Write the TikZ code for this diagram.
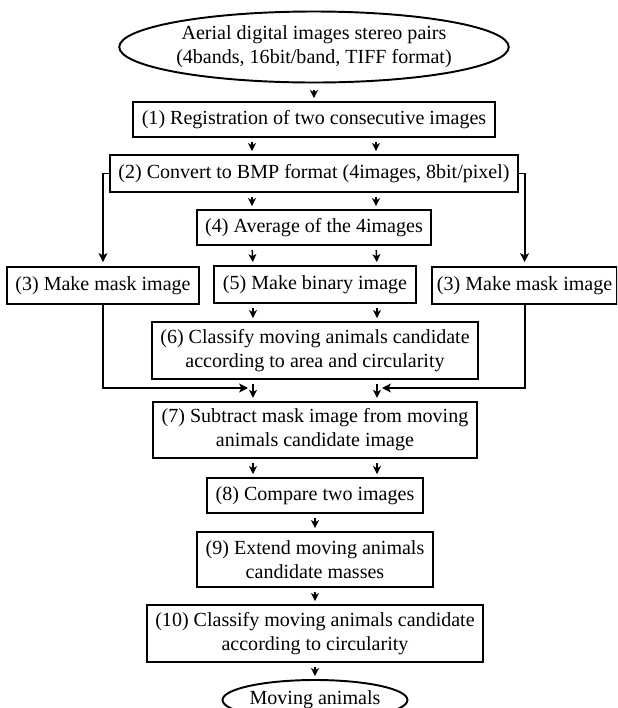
\documentclass[tikz,border=0pt]{standalone}
\usepackage{fontspec}
\setmainfont{Liberation Serif}
\usetikzlibrary{arrows.meta,shapes.geometric}

\begin{document}
\begin{tikzpicture}[
        font=\fontsize{11.4pt}{13.7pt}\selectfont,
        stepbox/.style={draw,line width=1.1pt,align=center,inner xsep=0.17cm,inner ysep=0.05cm,minimum height=0.7cm},
        twobox/.style={stepbox,minimum height=1.13cm},
        endbox/.style={draw,line width=1.1pt,ellipse,align=center,inner sep=0pt},
        arr/.style={line width=0.85pt,-{Stealth[length=4.5pt,width=4.5pt,inset=1.2pt]},shorten <=0.08cm,shorten >=0.06cm},
        sidearr/.style={line width=1.1pt,-{Stealth[length=5pt,width=5pt,inset=1.2pt]},shorten >=0.08cm}
    ]
    \useasboundingbox (0,0) rectangle (12.34,-14.16);
    \clip (0,0) rectangle (12.34,-14.16);

    \node[endbox,minimum width=7.6cm,minimum height=1.42cm] (src) at (6.28,-0.94) {Aerial digital images stereo pairs\\(4bands, 16bit/band, TIFF format)};
    \node[stepbox] (reg) at (6.28,-2.39) {(1) Registration of two consecutive images};
    \node[stepbox,minimum height=0.74cm] (bmp) at (6.28,-3.47) {(2) Convert to BMP format (4images, 8bit/pixel)};
    \node[stepbox] (avg) at (6.28,-4.55) {(4) Average of the 4images};
    \node[stepbox,minimum height=0.74cm] (maskl) at (2.06,-5.71) {(3) Make mask image};
    \node[stepbox,minimum height=0.74cm] (bin) at (6.30,-5.69) {(5) Make binary image};
    \node[stepbox,minimum height=0.74cm,inner xsep=0.1cm,anchor=west] (maskr) at (8.62,-5.71) {(3) Make mask image};
    \node[twobox,minimum height=1.14cm] (cls) at (6.30,-7.01) {(6) Classify moving animals candidate\\according to area and circularity};
    \node[twobox] (sub) at (6.30,-8.60) {(7) Subtract mask image from moving\\animals candidate image};
    \node[stepbox] (cmp) at (6.30,-9.91) {(8) Compare two images};
    \node[twobox,minimum height=1.1cm] (ext) at (6.30,-11.19) {(9) Extend moving animals\\candidate masses};
    \node[twobox,minimum height=1.14cm] (fin) at (6.30,-12.67) {(10) Classify moving animals candidate\\according to circularity};
    \node[endbox,minimum width=3.56cm,minimum height=0.8cm] (out) at (6.30,-14.0) {Moving animals};

    \coordinate (jl) at (5.06,-7.76);
    \coordinate (jr) at (7.54,-7.76);

    \draw[arr,shorten <=0.14cm] (src) -- (reg);
    \draw[arr] ([xshift=-1.24cm]reg.south) -- ([xshift=-1.24cm]bmp.north);
    \draw[arr] ([xshift=1.24cm]reg.south) -- ([xshift=1.24cm]bmp.north);
    \draw[arr] ([xshift=-1.24cm]bmp.south) -- ([xshift=-1.24cm]avg.north);
    \draw[arr] ([xshift=1.24cm]bmp.south) -- ([xshift=1.24cm]avg.north);
    \draw[arr] ([xshift=-1.24cm]avg.south) -- ([xshift=-1.24cm]bin.north);
    \draw[arr] ([xshift=1.24cm]avg.south) -- ([xshift=1.24cm]bin.north);
    \draw[arr] ([xshift=-1.24cm]bin.south) -- ([xshift=-1.24cm]cls.north);
    \draw[arr] ([xshift=1.24cm]bin.south) -- ([xshift=1.24cm]cls.north);
    \draw[arr,line width=1.2pt] ([xshift=-1.24cm]cls.south) -- ([xshift=-1.24cm]sub.north);
    \draw[arr,line width=1.2pt] ([xshift=1.24cm]cls.south) -- ([xshift=1.24cm]sub.north);
    \draw[arr] ([xshift=-1.24cm]sub.south) -- ([xshift=-1.24cm]cmp.north);
    \draw[arr] ([xshift=1.24cm]sub.south) -- ([xshift=1.24cm]cmp.north);
    \draw[arr] (cmp) -- (ext);
    \draw[arr] (ext) -- (fin);
    \draw[arr] (fin) -- (out);

    \draw[sidearr] (bmp.west) -| (maskl.north);
    \draw[sidearr] (bmp.east) -| (maskr.north);
    \draw[sidearr,shorten >=0.1cm] (maskl.south) |- (jl);
    \draw[sidearr,shorten >=0.1cm] (maskr.south) |- (jr);
\end{tikzpicture}
\end{document}
